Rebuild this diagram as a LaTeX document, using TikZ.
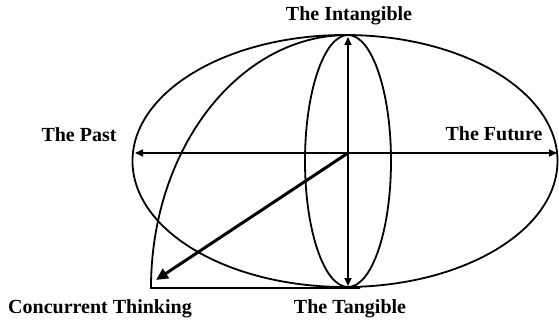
\documentclass[tikz,border=0pt]{standalone}
\usepackage{fontspec}
\setmainfont{Liberation Serif}
\usetikzlibrary{arrows.meta,positioning,calc}
\tikzset{
  tlabel/.style={font=\fontsize{20}{22}\selectfont\bfseries,inner sep=0pt},
  tcurve/.style={line width=1.8pt},
  taxis/.style={{Triangle[length=8pt,width=7pt]}-{Triangle[length=8pt,width=7pt]},line width=1.6pt},
  tthick/.style={-{Triangle[length=12pt,width=11pt]},line width=3pt},
}
\begin{document}
\begin{tikzpicture}[x=1pt,y=-1pt]
\useasboundingbox (0,0) rectangle (559,323);
% reference points
\coordinate (O) at (348,153);
\coordinate (top) at (348,37);
\coordinate (bot) at (348,286);
\coordinate (past) at (135,153);
\coordinate (future) at (557,153);
\coordinate (ct) at (156,280);
\coordinate (corner) at (151,288);
\coordinate (lineend) at (360,288);
% the two ellipses
\draw[tcurve] (345,161) ellipse [x radius=212.5,y radius=126];
\draw[tcurve] (348,161) ellipse [x radius=43,y radius=126];
% quarter arc down to the corner, then the base line
\draw[tcurve] (348,35) arc [start angle=270,end angle=180,x radius=197,y radius=253]
  -- (lineend);
% axes
\draw[taxis] (past) -- (future);
\draw[taxis] (top) -- (bot);
\draw[tthick] (O) -- (ct);
% labels
\node[tlabel] (intang) at (349,16) {The Intangible};
\node[tlabel] (fut) at (494,134) {The Future};
\node[tlabel] (pst) at (79,135) {The Past};
\node[tlabel] (tang) at (350,309) {The Tangible};
\node[tlabel] (conc) at (100,309) {Concurrent Thinking};
\end{tikzpicture}
\end{document}
